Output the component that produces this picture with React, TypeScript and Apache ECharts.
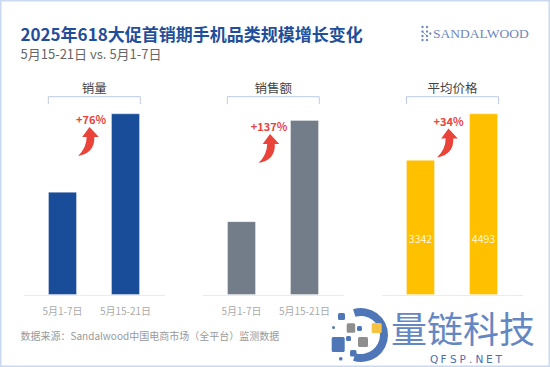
import React, { useEffect, useRef } from 'react';
import * as echarts from 'echarts';

const categories = ['5月1-7日', '5月15-21日'];
const volumeIndex = [100, 176];
const amountIndex = [100, 237];
const avgPrice = [3342, 4493];
const panelTitles = ['销量', '销售额', '平均价格'];
const growthLabels = ['+76%', '+137%', '+34%'];
const barColors = ['#1a4d99', '#737d89', '#ffc000'];

const FONT = "'Noto Sans CJK SC', 'Noto Sans', sans-serif";
const ARROW_D = 'M0 0 L9.3 10 L4.8 10 Q5.5 26 -11.5 29 Q-3 21 -2.8 10 L-7.3 10 Z';
let registered = false;

export default function App() {
  const ref = useRef<HTMLDivElement>(null);
  useEffect(() => {
    document.body.style.margin = '0';
    if (!registered) {
      echarts.graphic.registerShape('upArrow', echarts.graphic.extendPath(ARROW_D, {}));
      registered = true;
    }
    const chart = echarts.init(ref.current!, null, { renderer: 'svg' });

    const seriesData = [volumeIndex, amountIndex, avgPrice];
    const maxes = [176, 246, 4493];
    const lefts = [31, 210, 389];
    const mids = [94.3, 273.3, 452.5];
    const tips = [[89.5, 127], [270, 134], [448.5, 128.5]];
    const pctPos = [[91, 119], [269, 125.7], [448.5, 120.7]];

    const txt = (text: string, x: number, y: number, size: number, color: string, extra: any = {}) => ({
      type: 'text',
      silent: true,
      style: {
        text, x, y, fill: color, fontSize: size, fontFamily: FONT,
        align: extra.align || 'left', textAlign: extra.align || 'left',
        verticalAlign: 'middle', textVerticalAlign: 'middle',
        fontWeight: extra.fontWeight || 'normal',
        lineHeight: Math.round(size * 1.15),
        ...(extra.style || {}),
      },
    });

    const graphics: any[] = [
      {
        type: 'rect', silent: true,
        shape: { x: 0.75, y: 0.75, width: 548.5, height: 365.5 },
        style: { fill: 'none', stroke: '#c9d9ef', lineWidth: 1.5 },
      },
      txt('2025年618大促首销期手机品类规模增长变化', 20.5, 33, 17, '#1f4f9a', { fontWeight: 'bold' }),
      txt('5月15-21日 vs. 5月1-7日', 20.5, 53.5, 13, '#666666'),
      txt('数据来源：Sandalwood中国电商市场（全平台）监测数据', 20.5, 335, 10, '#999999'),
      txt('SANDALWOOD', 433, 33.5, 13.5, '#6f87b8', { style: { fontFamily: "'Liberation Serif', 'DejaVu Serif', serif" } }),
    ];
    [[422.5, 27], [427, 27], [422.5, 31.5], [427, 31.5], [422.5, 36], [427, 36], [422.5, 40], [427, 40], [430.3, 33.5]].forEach(([cx, cy]) => {
      graphics.push({ type: 'circle', silent: true, shape: { cx, cy, r: 1.2 }, style: { fill: '#6f87b8' } });
    });
    graphics.push({ type: 'line', silent: true, shape: { x1: 422.5, y1: 31.5, x2: 427, y2: 36 }, style: { stroke: '#6f87b8', lineWidth: 0.8 } });

    for (let i = 0; i < 3; i++) {
      const m = mids[i];
      graphics.push({
        type: 'line', silent: true,
        shape: { x1: m - 70.5, y1: 295.5, x2: m + 70.5, y2: 295.5 },
        style: { stroke: '#ebebeb', lineWidth: 1.2 },
      });
      graphics.push({
        type: 'polyline', silent: true,
        shape: { points: [[m - 46, 104], [m - 46, 96.7], [m + 46, 96.7], [m + 46, 104]] },
        style: { stroke: '#bccbe3', lineWidth: 1, fill: 'none' },
      });
      graphics.push(txt(panelTitles[i], m, 87.3, 12.5, '#444444', { align: 'center' }));
      graphics.push({
        type: 'upArrow', silent: true, x: tips[i][0], y: tips[i][1],
        style: { fill: '#e9433a' },
      });
      graphics.push(txt(growthLabels[i], pctPos[i][0], pctPos[i][1], 11, '#e9433a', { align: 'center', fontWeight: 'bold' }));
    }

    // watermark
    graphics.push({
      type: 'sector', silent: true,
      shape: { cx: 361, cy: 335, r: 27, r0: 19, startAngle: -1.87, endAngle: 1.87, clockwise: true },
      style: { fill: '#4f77b8' },
    });
    const sq: [number, number, number, number, string][] = [
      [338, 313, 7, 7, '#4f77b8'],
      [346.7, 323.3, 8.5, 9.5, '#8e8e8e'],
      [358, 337, 10, 10, '#8e8e8e'],
      [371.7, 323, 10, 10, '#f6c244'],
      [331.7, 337, 13, 15, '#4f77b8'],
      [332, 326, 3, 3, '#4f77b8'],
      [350, 350, 6.5, 6.5, '#4f77b8'],
      [339, 357, 3.5, 3.5, '#4f77b8'],
      [357, 326, 5, 5, '#4f77b8'],
      [346, 336, 5, 5, '#4f77b8'],
    ];
    sq.forEach(([x, y, w, h, c]) => {
      graphics.push({ type: 'rect', silent: true, shape: { x, y, width: w, height: h, r: 1.5 }, style: { fill: c } });
    });
    graphics.push(txt('量链科技', 391, 327, 36, '#6487c4'));
    const wm = 'QFSP.NET';
    const wmW = [9, 8, 8, 8, 5, 9, 8, 8];
    let wx = 430;
    wm.split('').forEach((ch, k) => {
      graphics.push(txt(ch, wx, 358.5, 10.5, '#4a6fb0', { style: { fontFamily: "'DejaVu Sans', sans-serif" } }));
      wx += wmW[k] + 1.5;
    });

    const option: any = {
      animation: false,
      backgroundColor: '#ffffff',
      textStyle: { fontFamily: FONT },
      grid: lefts.map((l) => ({ left: l, top: 113.3, width: 126, height: 181.7 })),
      xAxis: lefts.map((_, i) => ({
        type: 'category',
        gridIndex: i,
        data: categories,
        axisLine: { show: false },
        axisTick: { show: false },
        axisLabel: { show: i < 2, interval: 0, color: '#aaaaaa', fontSize: 10, margin: 10, fontFamily: FONT },
      })),
      yAxis: lefts.map((_, i) => ({
        type: 'value',
        gridIndex: i,
        min: 0,
        max: maxes[i],
        show: false,
        splitLine: { show: false },
      })),
      series: seriesData.map((d, i) => ({
        type: 'bar',
        xAxisIndex: i,
        yAxisIndex: i,
        barWidth: 29,
        data: d,
        itemStyle: { color: barColors[i], borderColor: 'rgba(255,255,255,0.35)', borderWidth: 1 },
        label: i === 2
          ? { show: true, position: 'insideBottom', distance: 51, color: 'rgba(255,255,255,0.9)', fontSize: 10.5, fontFamily: FONT }
          : { show: false },
      })),
      graphic: { elements: graphics },
    };
    chart.setOption(option);
    return () => chart.dispose();
  }, []);
  return <div ref={ref} style={{ width: 550, height: 367 }} />;
}
